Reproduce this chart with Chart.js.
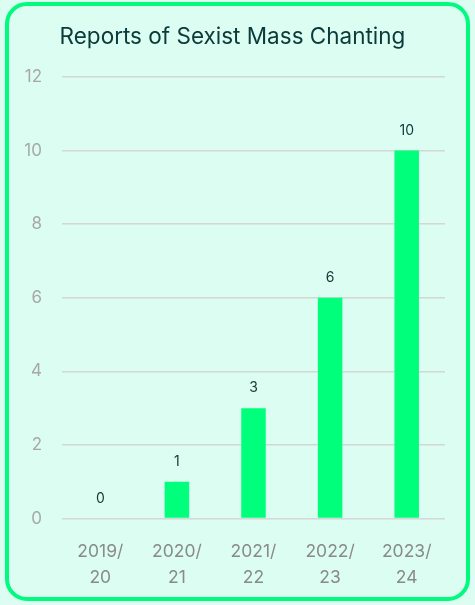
<!DOCTYPE html>
<html>
<head>
  <title>Reports of Sexist Mass Chanting</title>
  <script src="https://cdn.jsdelivr.net/npm/chart.js"></script>
  <style>
    html, body { margin: 0; padding: 0; background: #dcfdf2; }
    #card {
      position: absolute; left: 5px; top: 2px; width: 457px; height: 591px;
      border: 4px solid #00fb7e; border-radius: 22px; background: #dbfdf2;
    }
    #wrap { position: absolute; left: 0; top: 0; width: 475px; height: 605px; }
  </style>
</head>
<body>
  <div id="card"></div>
  <div id="wrap"><canvas id="chanting"></canvas></div>

  <script>
    // data
    var seasons = [["2019/", "20"], ["2020/", "21"], ["2021/", "22"], ["2022/", "23"], ["2023/", "24"]];
    var reports = [0, 1, 3, 6, 10];
    var yTicks = [0, 2, 4, 6, 8, 10, 12];

    var fontFamily = "Inter, 'Noto Sans', sans-serif";

    // draw the value above each bar
    var valueLabels = {
      id: "valueLabels",
      afterDatasetsDraw: function(chart) {
        var ctx = chart.ctx;
        var meta = chart.getDatasetMeta(0);
        ctx.save();
        ctx.font = "14px " + fontFamily;
        ctx.fillStyle = "#123a36";
        ctx.textAlign = "center";
        ctx.textBaseline = "middle";
        meta.data.forEach(function(bar, i) {
          ctx.fillText(String(reports[i]), bar.x, bar.y - 20);
        });
        ctx.restore();
      }
    };

    new Chart("chanting", {
      type: "bar",
      data: {
        labels: seasons,
        datasets: [{
          label: "Reports",
          data: reports,
          backgroundColor: "#00ff7a",
          borderWidth: 0,
          barPercentage: 0.64,
          categoryPercentage: 0.5
        }]
      },
      options: {
        responsive: true,
        maintainAspectRatio: false,
        animation: false,
        layout: { padding: { top: 24, left: 20, right: 30, bottom: 2 } },
        plugins: {
          legend: { display: false },
          tooltip: { enabled: false },
          title: {
            display: true,
            text: "Reports of Sexist Mass Chanting",
            color: "#0b3a3a",
            font: { family: fontFamily, size: 22.5, weight: "normal" },
            padding: { top: 0, bottom: 26 }
          }
        },
        scales: {
          y: {
            min: 0,
            max: 12,
            afterBuildTicks: function(axis) {
              axis.ticks = yTicks.map(function(v) { return { value: v }; });
            },
            afterFit: function(axis) { axis.width = 42; },
            border: { display: false },
            grid: { color: "#d6d6d6", lineWidth: 1.5, drawTicks: false },
            ticks: {
              color: "#a8a8a8",
              padding: 20,
              font: { family: fontFamily, size: 17 }
            }
          },
          x: {
            border: { display: false },
            grid: { display: false },
            ticks: {
              color: "#8a8a8a",
              padding: 12,
              maxRotation: 0,
              font: { family: fontFamily, size: 17.5, lineHeight: 1.5 }
            }
          }
        }
      },
      plugins: [valueLabels]
    });
  </script>
</body>
</html>
